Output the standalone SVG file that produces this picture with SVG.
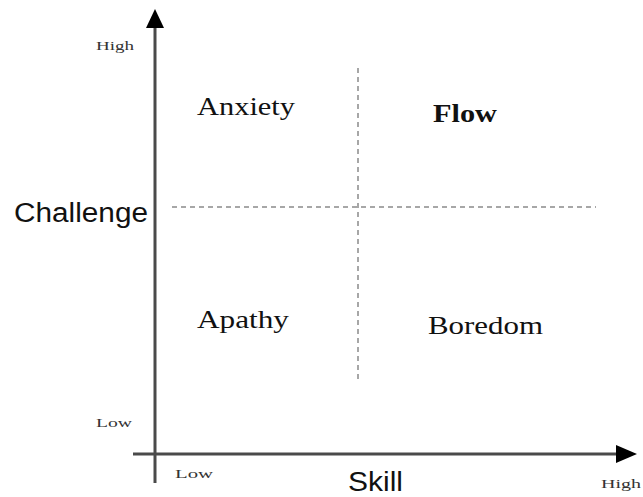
<svg xmlns="http://www.w3.org/2000/svg" width="643" height="497" viewBox="0 0 643 497">
<style>
.axis{stroke:#4a4a4a;stroke-width:3;fill:none}
.dash{stroke:#8a8a8a;stroke-width:1.5;stroke-dasharray:5 4;fill:none}
.q{font-family:"Liberation Serif",serif;font-size:26px;fill:#111}
.small{font-family:"Liberation Serif",serif;font-size:13px;fill:#333}
.lab{font-family:"Liberation Sans",sans-serif;font-size:27px;fill:#111}
</style>
<rect width="643" height="497" fill="#fff"/>
<g id="connectors">
<line class="axis" x1="155" y1="24" x2="155" y2="483"/>
<polygon points="155,9 146,28 164,28" fill="#000"/>
<line class="axis" x1="133" y1="454" x2="620" y2="454"/>
<polygon points="637,454 616,445 616,463" fill="#000"/>
<line class="dash" x1="358" y1="68" x2="358" y2="382"/>
<line class="dash" x1="172" y1="207" x2="596" y2="207"/>
</g>
<g id="anxiety"><text class="q" x="197" y="115" textLength="98" lengthAdjust="spacingAndGlyphs">Anxiety</text></g>
<g id="flow"><text class="q" x="433" y="122" font-weight="bold" textLength="64" lengthAdjust="spacingAndGlyphs">Flow</text></g>
<g id="apathy"><text class="q" x="197" y="328" textLength="92" lengthAdjust="spacingAndGlyphs">Apathy</text></g>
<g id="boredom"><text class="q" x="428" y="334" textLength="115" lengthAdjust="spacingAndGlyphs">Boredom</text></g>
<g id="challenge"><text class="lab" x="14" y="222" textLength="134" lengthAdjust="spacingAndGlyphs">Challenge</text></g>
<g id="skill"><text class="lab" x="348" y="491" textLength="55" lengthAdjust="spacingAndGlyphs">Skill</text></g>
<g id="labels">
<text class="small" x="96" y="50" textLength="38" lengthAdjust="spacingAndGlyphs">High</text>
<text class="small" x="96" y="427" textLength="36" lengthAdjust="spacingAndGlyphs">Low</text>
<text class="small" x="175" y="478" textLength="38" lengthAdjust="spacingAndGlyphs">Low</text>
<text class="small" x="601" y="488" textLength="40" lengthAdjust="spacingAndGlyphs">High</text>
</g>
</svg>
